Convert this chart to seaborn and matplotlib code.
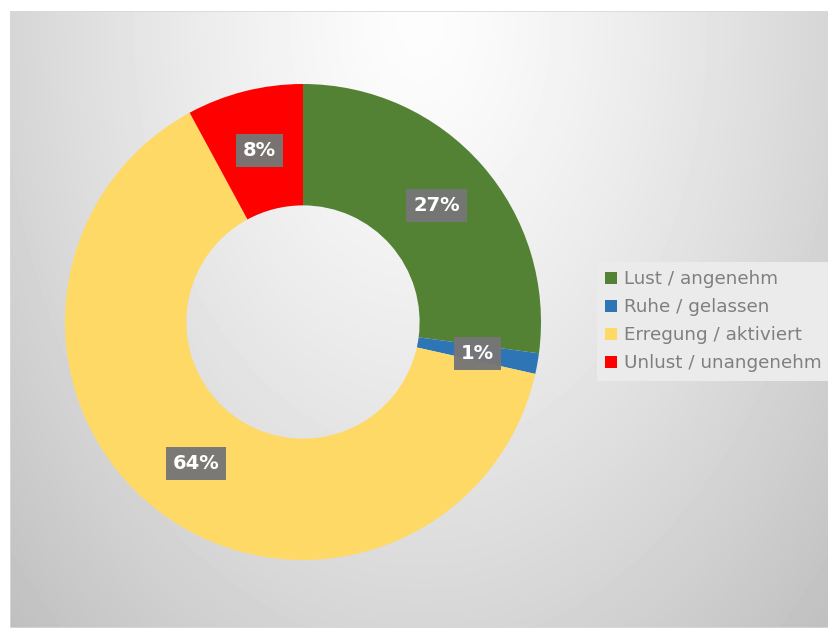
import numpy as np
import matplotlib
matplotlib.use("Agg")
import matplotlib.pyplot as plt
from matplotlib.patches import Patch, Rectangle
import seaborn as sns

# Survey data: share of responses per mood category (percent)
categories = ["Lust / angenehm", "Ruhe / gelassen", "Erregung / aktiviert", "Unlust / unangenehm"]
shares = [27.1, 1.4, 63.6, 7.9]
palette = ["#548235", "#2E75B6", "#FFD966", "#FF0000"]

sns.set_theme(style="white")
plt.rcParams["font.family"] = ["DejaVu Sans"]

W, H = 829, 628
fig = plt.figure(figsize=(W / 100, H / 100), dpi=100)
fig.patch.set_facecolor("white")

# Chart area with soft radial grey gradient from the top centre
bx0, by0 = 10, 11
bg = fig.add_axes([bx0 / W, 0, (W - bx0) / W, (H - by0) / H])
bg.set_axis_off()
xs = np.arange(bx0, W)
ys = np.arange(by0, H)
X, Y = np.meshgrid(xs, ys)
t = np.sqrt(((X - 420) / 600.0) ** 2 + ((Y - 20) / 900.0) ** 2)
val = np.clip(253 - 65 * t ** 1.3, 0, 255) / 255.0
bg.imshow(val, cmap="gray", vmin=0, vmax=1, aspect="auto", interpolation="bilinear")
bg.add_patch(Rectangle((0, 0), 1, 1, transform=bg.transAxes, fill=False,
                       edgecolor="#d9d9d9", linewidth=1.2))

# Donut
cx, cy, R = 303, 322, 238
ax = fig.add_axes([(cx - R) / W, (H - cy - R) / H, 2 * R / W, 2 * R / H])
ax.set_facecolor("none")
wedges, _, autotexts = ax.pie(
    shares,
    colors=palette,
    startangle=90,
    counterclock=False,
    radius=1.0,
    wedgeprops=dict(width=0.51, edgecolor="none"),
    autopct=lambda p: f"{p:.0f}%",
    pctdistance=0.745,
)
ax.set_xlim(-1, 1)
ax.set_ylim(-1, 1)
ax.set_aspect("auto")
for txt in autotexts:
    txt.set_color("white")
    txt.set_fontweight("bold")
    txt.set_fontsize(14)
    txt.set_bbox(dict(boxstyle="square,pad=0.36", facecolor="#767676",
                      edgecolor="none", alpha=0.97))

# Legend
handles = [Patch(facecolor=c, edgecolor="none") for c in palette]
leg = fig.legend(
    handles, categories,
    loc="upper left",
    bbox_to_anchor=(597 / W, 1 - 262 / H),
    fontsize=13.2,
    frameon=True,
    fancybox=False,
    facecolor="#ebebeb",
    edgecolor="none",
    framealpha=1,
    handlelength=0.65,
    handleheight=0.65,
    handletextpad=0.35,
    labelspacing=0.55,
    borderpad=0.45,
    borderaxespad=0,
)
for txt in leg.get_texts():
    txt.set_color("#7f7f7f")

fig.savefig("out.png", dpi=100)
